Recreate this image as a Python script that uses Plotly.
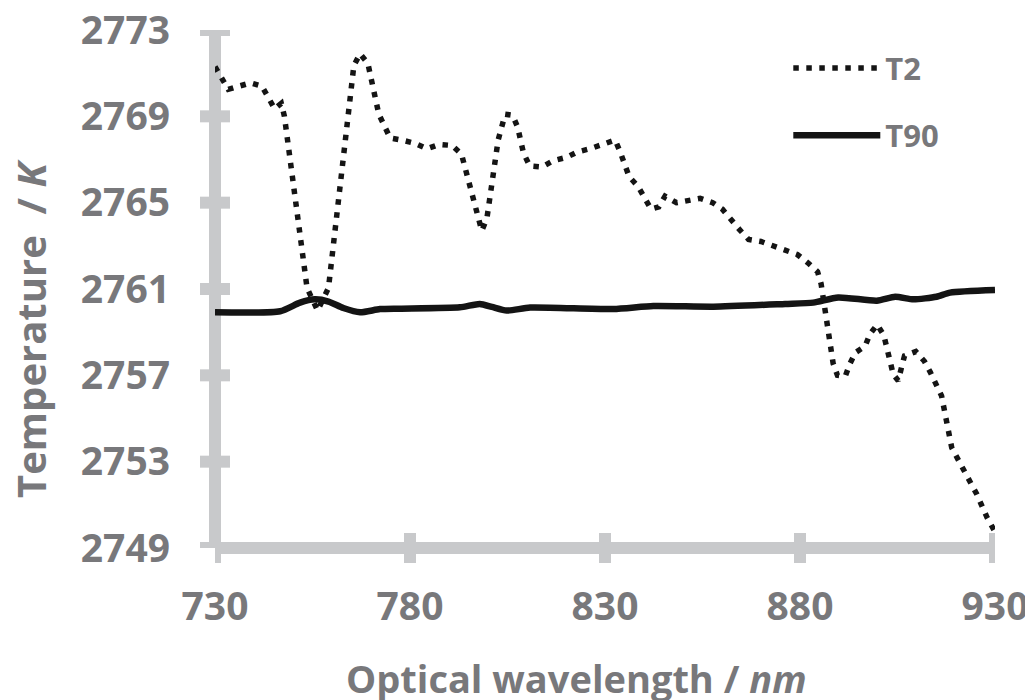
import plotly.graph_objects as go

# ---------------- data ----------------
t2_x = [730, 731.7, 733.4, 736.2, 739.1, 742.0, 743.7, 745.3, 747.0, 747.8,
        753.6, 756.3, 759.1, 765.6, 767.2, 769.2, 772.0, 774.9, 777.9, 781.3,
        784.4, 787.5, 790.8, 793.2, 798.4, 799.7, 802.6, 804.4, 806.3, 807.6,
        809.1, 810.7, 813.8, 816.8, 820.1, 822.9, 826.2, 829.5, 832.6, 833.9,
        836.2, 838.5, 841.8, 843.8, 845.4, 848.3, 851.4, 854.4, 857.6, 860.1,
        864.5, 866.8, 870.0, 873.0, 876.2, 879.3, 882.1, 884.5, 885.4, 887.5,
        888.5, 889.6, 891.6, 892.7, 894.2, 896.7, 897.9, 899.8, 901.5, 903.9,
        905.2, 906.0, 906.8, 909.7, 911.9, 913.4, 916.3, 918.9, 920.5, 925.3,
        928.0, 930]
t2_y = [2771.3, 2770.8, 2770.25, 2770.4, 2770.55, 2770.4, 2769.85, 2769.35, 2769.6, 2769.0,
        2761.05, 2760.0, 2761.05, 2771.35, 2771.9, 2771.45, 2769.1, 2768.0, 2767.9, 2767.75,
        2767.5, 2767.7, 2767.65, 2767.25, 2763.7, 2764.25, 2767.9, 2769.1, 2769.05, 2768.5,
        2767.3, 2766.7, 2766.65, 2766.95, 2767.1, 2767.35, 2767.5, 2767.7, 2767.9, 2767.35,
        2766.2, 2765.75, 2764.7, 2764.8, 2765.3, 2765.0, 2765.1, 2765.2, 2765.0, 2764.7,
        2763.75, 2763.3, 2763.2, 2763.0, 2762.8, 2762.6, 2762.2, 2761.8, 2761.25, 2758.75,
        2757.55, 2757.0, 2756.95, 2757.5, 2758.05, 2758.35, 2758.9, 2759.35, 2758.85, 2757.05,
        2756.75, 2757.35, 2757.9, 2758.1, 2757.65, 2757.15, 2756.05, 2753.65, 2753.1, 2751.5,
        2750.4, 2749.75]

t90_x = [730, 746.7, 751.8, 755.6, 759.1, 762.9, 767.2, 772.3, 777.4, 792.8,
         797.9, 801.0, 804.8, 810.8, 832.1, 842.4, 857.8, 876.2, 883.4, 889.8,
         899.7, 904.4, 909.1, 915.0, 918.5, 930]
t90_y = [2759.92, 2759.97, 2760.37, 2760.52, 2760.42, 2760.12, 2759.92, 2760.07, 2760.09, 2760.15,
         2760.31, 2760.17, 2760.0, 2760.14, 2760.07, 2760.21, 2760.18, 2760.31, 2760.37, 2760.61,
         2760.46, 2760.64, 2760.52, 2760.64, 2760.83, 2760.95]

x_ticks = [730, 780, 830, 880, 930]
y_ticks = [2749, 2753, 2757, 2761, 2765, 2769, 2773]
series_names = ["T2", "T90"]

# ---------------- style ----------------
GRAY_TXT = "#78787b"
GRAY_AX = "#c8c9cb"
FONT = "Open Sans"

fig = go.Figure()
fig.add_trace(go.Scatter(
    x=t2_x, y=t2_y, mode="lines", name=series_names[0], legendgroup="a",
    line=dict(color="#141414", width=5.5, dash="5.5px,7.5px"),
))
fig.add_trace(go.Scatter(
    x=t90_x, y=t90_y, mode="lines", name=series_names[1], legendgroup="b",
    line=dict(color="#141414", width=6.5, shape="spline", smoothing=0.6),
))

shapes = []
# axis lines
shapes.append(dict(type="line", xref="paper", yref="paper", x0=0, x1=0, y0=0, y1=1,
                   line=dict(color=GRAY_AX, width=12), layer="below"))
shapes.append(dict(type="line", xref="paper", yref="paper", x0=0, x1=1, y0=0, y1=0,
                   line=dict(color=GRAY_AX, width=12), layer="below"))
# crossing ticks
for v in y_ticks:
    shapes.append(dict(type="line", xref="paper", yref="y", xsizemode="pixel", xanchor=0,
                       x0=-15, x1=15, y0=v, y1=v,
                       line=dict(color=GRAY_AX, width=12), layer="below"))
for v in x_ticks:
    shapes.append(dict(type="line", xref="x", yref="paper", ysizemode="pixel", yanchor=0,
                       y0=-15, y1=15, x0=v, x1=v,
                       line=dict(color=GRAY_AX, width=12), layer="below"))

# the page body adds an 8px offset, so the figure is 8px smaller on each axis
fig.update_layout(
    width=1025, height=692,
    margin=dict(l=207, r=38, t=22, b=152, autoexpand=False),
    paper_bgcolor="white", plot_bgcolor="white",
    font=dict(family=FONT, color=GRAY_TXT),
    shapes=shapes,
    showlegend=True,
    legend=dict(x=0.735, y=0.978, xanchor="left", yanchor="top",
                font=dict(size=31, family=FONT, color=GRAY_TXT, weight="bold"),
                itemwidth=87, tracegroupgap=24, bgcolor="rgba(0,0,0,0)"),
    xaxis=dict(range=[730, 930], tickvals=x_ticks, ticks="", showline=False,
               showgrid=False, zeroline=False, automargin=False,
               ticklabeloverflow="allow",
               tickfont=dict(size=39, family=FONT, color=GRAY_TXT, weight="bold"),
               ticklabelstandoff=32),
    yaxis=dict(range=[2749, 2773], tickvals=y_ticks, ticks="", showline=False,
               showgrid=False, zeroline=False, automargin=False,
               ticklabeloverflow="allow",
               tickfont=dict(size=39, family=FONT, color=GRAY_TXT, weight="bold"),
               ticklabelstandoff=44),
    annotations=[
        dict(text="Temperature  / <i>K</i>", xref="paper", yref="paper",
             x=(30 - 215) / 780, y=(548 - 328) / 518, xanchor="center", yanchor="middle",
             textangle=-90, showarrow=False,
             font=dict(size=40, family=FONT, color=GRAY_TXT, weight="bold")),
        dict(text="Optical wavelength / <i>nm</i>", xref="paper", yref="paper",
             x=(576 - 215) / 780, y=(548 - 678) / 518, xanchor="center", yanchor="middle",
             showarrow=False,
             font=dict(size=38, family=FONT, color=GRAY_TXT, weight="bold")),
    ],
)

fig.write_html("out.html")
